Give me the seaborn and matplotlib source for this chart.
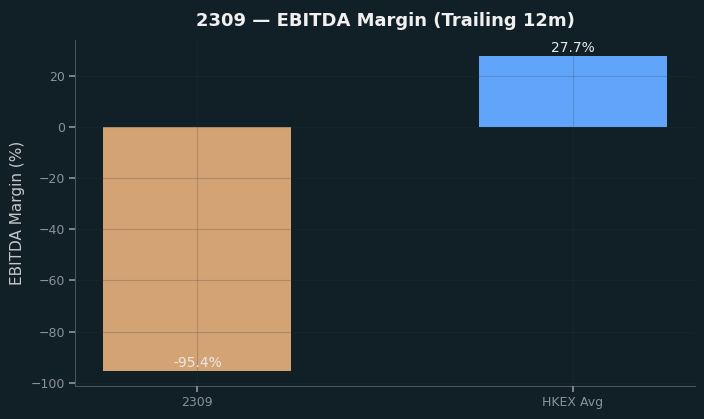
import pandas as pd
import matplotlib.pyplot as plt
import seaborn as sns

categories = ["2309", "HKEX Avg"]
margins = [-95.4, 27.7]
bar_colors = ["#d4a373", "#60a5fa"]

BG = "#111f26"

df = pd.DataFrame({"Company": categories, "Margin": margins})

sns.set_theme(style="dark")
plt.rcParams["font.family"] = ["DejaVu Sans"]

fig, ax = plt.subplots(figsize=(7.04, 4.19), dpi=100)
fig.patch.set_facecolor(BG)
ax.set_facecolor(BG)

sns.barplot(data=df, x="Company", y="Margin", hue="Company", palette=bar_colors,
            width=0.5, legend=False, saturation=1, linewidth=0, ax=ax)

for i, v in enumerate(margins):
    ax.annotate(f"{v:.1f}%", (i, v), xytext=(0, 0.7), textcoords="offset points",
                ha="center", va="bottom", color="#e8e8e8", fontsize=10)

ax.set_xlim(-0.325, 1.325)
ax.set_ylim(-101.2, 34.0)
ax.set_yticks([-100, -80, -60, -40, -20, 0, 20])

ax.set_title("2309 — EBITDA Margin (Trailing 12m)", color="#f0f0f0",
             fontsize=13, fontweight="bold", pad=10)
ax.set_xlabel("")
ax.set_ylabel("EBITDA Margin (%)", color="#c4c8cc", fontsize=11)

ax.set_axisbelow(False)
ax.grid(True, color="#2a3a42", alpha=0.22, linewidth=0.8)
ax.tick_params(colors="#8a9299", labelsize=9, length=4, left=True, bottom=True)
for s in ["top", "right"]:
    ax.spines[s].set_visible(False)
for s in ["left", "bottom"]:
    ax.spines[s].set_color("#4a5358")
    ax.spines[s].set_linewidth(0.8)

plt.subplots_adjust(left=0.107, right=0.987, top=0.905, bottom=0.079)
plt.savefig("out.png", dpi=100, facecolor=BG)
